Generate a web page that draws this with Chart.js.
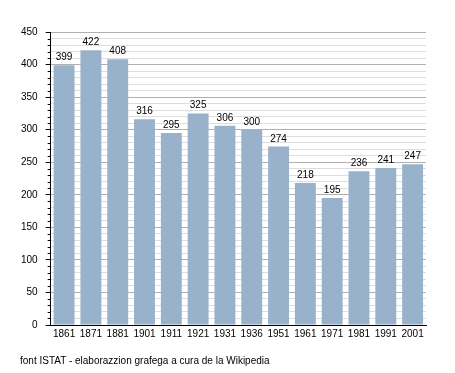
<!DOCTYPE html>
<html>
<head>
<meta charset="utf-8">
<script src="https://cdn.jsdelivr.net/npm/chart.js@4/dist/chart.umd.min.js"></script>
<style>
	html, body { margin: 0; padding: 0; background: #fff; }
	#wrap { position: relative; width: 455px; height: 373px; }
	#footer {
		position: absolute; left: 20px; top: 354px;
		font: 10px "Liberation Sans", Arial, sans-serif; line-height: 14px; color: #000;
	}
</style>
</head>
<body>
<div id="wrap">
	<canvas id="chart-canvas" width="455" height="373"></canvas>
	<div id="footer">font ISTAT - elaborazzion grafega a cura de la Wikipedia</div>
</div>
<script>
const years = ['1861', '1871', '1881', '1901', '1911', '1921', '1931', '1936', '1951', '1961', '1971', '1981', '1991', '2001']
const population = [399, 422, 408, 316, 295, 325, 306, 300, 274, 218, 195, 236, 241, 247]
const y_min = 0
const y_max = 450
const major_step = 50
const minor_step = 10

const font_family = '"Liberation Sans", Arial, sans-serif'

// value labels on top of each bar
const bar_labels = {
	id: 'bar_labels',
	afterDatasetsDraw(chart) {
		let ctx = chart.ctx
		let meta = chart.getDatasetMeta(0)
		ctx.save()
		ctx.font = '10px ' + font_family
		ctx.fillStyle = '#000'
		ctx.textAlign = 'center'
		ctx.textBaseline = 'alphabetic'
		meta.data.forEach((bar, i) => {
			ctx.fillText(String(population[i]), bar.x, bar.y - 5)
		})
		ctx.restore()
	}
}

// short ticks for the minor steps
const minor_ticks = {
	id: 'minor_ticks',
	afterDraw(chart) {
		let scale = chart.scales.y
		let ctx = chart.ctx
		ctx.save()
		ctx.strokeStyle = '#000'
		ctx.lineWidth = 1
		for (let v = y_min; v <= y_max; v += minor_step) {
			if (v % major_step == 0) continue
			let py = Math.round(scale.getPixelForValue(v)) + 0.5
			ctx.beginPath()
			ctx.moveTo(scale.right - 3, py)
			ctx.lineTo(scale.right, py)
			ctx.stroke()
		}
		ctx.restore()
	}
}

new Chart(document.getElementById('chart-canvas'), {
	type: 'bar',
	data: {
		labels: years,
		datasets: [{
			data: population,
			backgroundColor: '#99b2cc',
			borderWidth: 0,
			barPercentage: 0.78,
			categoryPercentage: 1
		}]
	},
	options: {
		responsive: false,
		animation: false,
		layout: { padding: { left: 13, right: 29, top: 32, bottom: 30 } },
		plugins: {
			legend: { display: false },
			tooltip: { enabled: false }
		},
		scales: {
			x: {
				grid: { display: false, drawTicks: false },
				border: { color: '#000', width: 1 },
				ticks: { color: '#000', font: { size: 10, family: font_family }, padding: 3, maxRotation: 0, autoSkip: false }
			},
			y: {
				min: y_min,
				max: y_max,
				border: { color: '#000', width: 1 },
				grid: {
					color: (c) => c.tick && c.tick.value % major_step == 0 ? '#b0b0b0' : '#dedede',
					tickColor: (c) => c.tick && c.tick.value % major_step == 0 ? '#000' : 'rgba(0,0,0,0)',
					tickLength: 5
				},
				ticks: {
					stepSize: minor_step,
					autoSkip: false,
					color: '#000',
					padding: 8,
					font: { size: 10, family: font_family },
					callback: (v) => v % major_step == 0 ? String(v) : ''
				}
			}
		}
	},
	plugins: [bar_labels, minor_ticks]
})
</script>
</body>
</html>
